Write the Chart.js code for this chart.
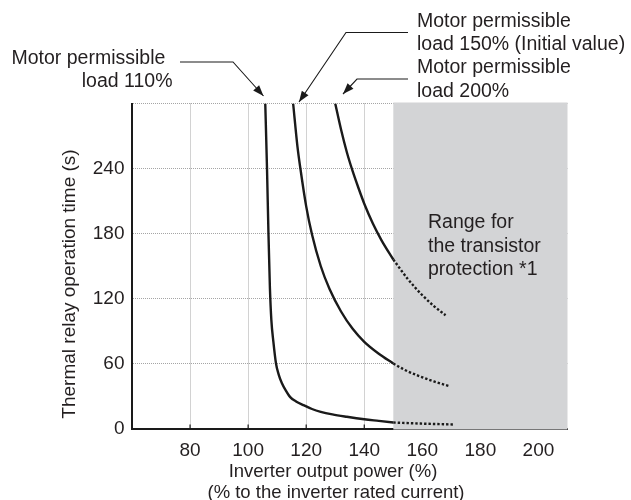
<!DOCTYPE html>
<html>
<head>
<meta charset="utf-8">
<script src="https://cdn.jsdelivr.net/npm/chart.js@4.4.1/dist/chart.umd.min.js"></script>
<style>
  html, body { margin: 0; padding: 0; background: #fff; }
  #wrap { width: 631px; height: 500px; }
</style>
</head>
<body>
<div id="wrap"><canvas id="thermalChart" width="631" height="500"></canvas></div>
<script>
// axis ticks
const xTicks = [80, 100, 120, 140, 160, 180, 200];
const yTicks = [0, 60, 120, 180, 240, 300];
const yTickLabels = ['0', '60', '120', '180', '240', ''];

// shaded range (transistor protection)
const protectFrom = 150;
const protectTo = 210;

// motor permissible load 110%
const load110X = [105.9, 106.5, 107, 107.5, 108, 108.7, 109.6, 110.5, 111.6, 113, 114.5, 116.5, 119, 122, 125, 129, 134, 140, 145, 150];
const load110Y = [300, 240, 180, 130, 100, 80, 60, 50, 42, 35, 29, 25, 21.6, 18, 15.4, 13, 10.8, 8.5, 7, 5.5];
const load110ExtX = [150, 160, 171];
const load110ExtY = [5.5, 4.5, 3.7];

// motor permissible load 150% (initial value)
const load150X = [115.5, 117, 118, 120, 122, 125, 128, 132, 136, 140, 145, 150];
const load150Y = [300, 260, 240, 205, 179, 150, 129, 108, 92, 80, 69, 60];
const load150ExtX = [150, 154, 159, 164, 169.2];
const load150ExtY = [60, 54, 48.3, 43.4, 39.2];

// motor permissible load 200%
const load200X = [130, 132, 134, 136, 138, 140, 143, 146, 150];
const load200Y = [300, 276, 255, 237.5, 222, 207.5, 189, 173.5, 156];
const load200ExtX = [150, 155, 160, 164, 168];
const load200ExtY = [156, 138, 123, 113, 104.5];

const FONT = '"Liberation Sans", Arial, sans-serif';
const TEXT_COLOR = '#231f20';

function toPoints(xs, ys) {
    return xs.map((x, i) => ({ x: x, y: ys[i] }));
}

function solid(xs, ys) {
    return {
        data: toPoints(xs, ys),
        borderColor: '#1a1a1a',
        borderWidth: 2.4,
        pointRadius: 0,
        cubicInterpolationMode: 'monotone',
        fill: false
    };
}

function dotted(xs, ys) {
    return {
        data: toPoints(xs, ys),
        borderColor: '#1a1a1a',
        borderWidth: 2.4,
        borderDash: [2.4, 2],
        pointRadius: 0,
        cubicInterpolationMode: 'monotone',
        fill: false
    };
}

function arrow(ctx, pts) {
    // leader line then filled head at the last point
    ctx.beginPath();
    ctx.moveTo(pts[0][0], pts[0][1]);
    for (let i = 1; i < pts.length; i++) ctx.lineTo(pts[i][0], pts[i][1]);
    ctx.stroke();
    const [x1, y1] = pts[pts.length - 2];
    const [x2, y2] = pts[pts.length - 1];
    const a = Math.atan2(y2 - y1, x2 - x1);
    const len = 11, half = 4;
    ctx.beginPath();
    ctx.moveTo(x2, y2);
    ctx.lineTo(x2 - len * Math.cos(a) + half * Math.sin(a), y2 - len * Math.sin(a) - half * Math.cos(a));
    ctx.lineTo(x2 - len * Math.cos(a) - half * Math.sin(a), y2 - len * Math.sin(a) + half * Math.cos(a));
    ctx.closePath();
    ctx.fill();
}

const decor = {
    id: 'decor',
    beforeDatasetsDraw(chart) {
        const ctx = chart.ctx;
        const x = chart.scales.x, y = chart.scales.y;
        const area = chart.chartArea;
        ctx.save();
        // small inward ticks on the x axis
        ctx.strokeStyle = '#1a1a1a';
        ctx.lineWidth = 1.2;
        xTicks.forEach(v => {
            const px = x.getPixelForValue(v);
            ctx.beginPath();
            ctx.moveTo(px, area.bottom);
            ctx.lineTo(px, area.bottom - 4);
            ctx.stroke();
        });
        // gray protection range
        const left = x.getPixelForValue(protectFrom);
        const right = x.getPixelForValue(protectTo);
        ctx.fillStyle = '#d3d4d6';
        ctx.fillRect(left, y.getPixelForValue(300) - 1, right - left, y.getPixelForValue(0) - y.getPixelForValue(300) + 2);
        ctx.restore();
    },
    afterDraw(chart) {
        const ctx = chart.ctx;
        ctx.save();
        ctx.fillStyle = TEXT_COLOR;
        ctx.textBaseline = 'alphabetic';

        // range label inside the gray area
        ctx.font = '19.5px ' + FONT;
        ctx.textAlign = 'left';
        ctx.fillText('Range for', 428, 228);
        ctx.fillText('the transistor', 428, 251.5);
        ctx.fillText('protection *1', 428, 275);

        // curve labels
        ctx.fillText('Motor permissible', 11.5, 63.5);
        ctx.textAlign = 'right';
        ctx.fillText('load 110%', 172.5, 87);
        ctx.textAlign = 'left';
        ctx.fillText('Motor permissible', 417, 26.5);
        ctx.fillText('load 150% (Initial value)', 417, 49.5);
        ctx.fillText('Motor permissible', 417, 73);
        ctx.fillText('load 200%', 417, 96.5);

        // leaders
        ctx.strokeStyle = '#1a1a1a';
        ctx.fillStyle = '#1a1a1a';
        ctx.lineWidth = 1.1;
        arrow(ctx, [[180, 62], [233, 62], [263.5, 96]]);
        arrow(ctx, [[408, 32.5], [346, 32.5], [299, 102]]);
        arrow(ctx, [[408, 79], [357, 79], [343, 94]]);

        // axis titles
        ctx.fillStyle = TEXT_COLOR;
        ctx.font = '18.5px ' + FONT;
        ctx.textAlign = 'center';
        ctx.fillText('Inverter output power (%)', 333, 477);
        ctx.fillText('(% to the inverter rated current)', 336, 498);

        ctx.font = '19px ' + FONT;
        ctx.translate(75, 284);
        ctx.rotate(-Math.PI / 2);
        ctx.fillText('Thermal relay operation time (s)', 0, 0);
        ctx.restore();
    }
};

const gridStyle = {
    color: '#a5a5a5',
    lineWidth: 1,
    drawTicks: false
};

// v4: border.dash is what dashes the grid lines
const borderStyle = { display: true, color: '#1a1a1a', width: 2, dash: [1, 1] };

new Chart(document.getElementById('thermalChart'), {
    type: 'line',
    data: {
        datasets: [
            solid(load110X, load110Y),
            dotted(load110ExtX, load110ExtY),
            solid(load150X, load150Y),
            dotted(load150ExtX, load150ExtY),
            solid(load200X, load200Y),
            dotted(load200ExtX, load200ExtY)
        ]
    },
    options: {
        responsive: false,
        animation: false,
        layout: { padding: { left: 0, right: 63.5, top: 103.5, bottom: 0 } },
        scales: {
            x: {
                type: 'linear',
                min: 60,
                max: protectTo,
                afterBuildTicks: s => { s.ticks = xTicks.map(v => ({ value: v })); },
                afterFit: s => { s.height = 71.5; },
                grid: gridStyle,
                border: borderStyle,
                ticks: {
                    padding: 11,
                    color: TEXT_COLOR,
                    font: { family: FONT, size: 19 },
                    maxRotation: 0,
                    callback: v => String(v)
                }
            },
            y: {
                type: 'linear',
                min: 0,
                max: 300,
                afterBuildTicks: s => { s.ticks = yTicks.map(v => ({ value: v })); },
                afterFit: s => { s.width = 132; },
                grid: gridStyle,
                border: borderStyle,
                ticks: {
                    padding: 7.5,
                    color: TEXT_COLOR,
                    font: { family: FONT, size: 19 },
                    callback: (v, i) => yTickLabels[i]
                }
            }
        },
        plugins: {
            legend: { display: false },
            tooltip: { enabled: false }
        }
    },
    plugins: [decor]
});
</script>
</body>
</html>
